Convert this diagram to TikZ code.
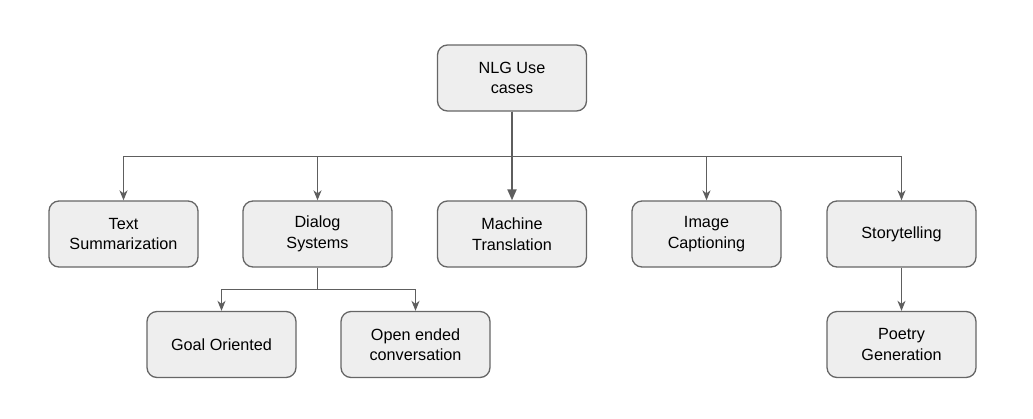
\documentclass[tikz,border=0pt]{standalone}
\usepackage{fontspec}
\setmainfont{Liberation Sans}
\usetikzlibrary{arrows.meta}
\definecolor{boxFill}{HTML}{EEEEEE}
\definecolor{boxLine}{HTML}{666666}
\definecolor{linkLine}{HTML}{5E5E5E}

\begin{document}
\begin{tikzpicture}[
  x=1pt,
  y=-1pt,
  usecase/.style={
    draw=boxLine,
    fill=boxFill,
    line width=1.3pt,
    rounded corners=10pt,
    minimum width=149pt,
    minimum height=66pt,
    align=center,
    font=\fontsize{16.2}{20.5}\selectfont,
  },
  trunk/.style={
    draw=linkLine,
    line width=2pt,
    -{Triangle[length=11pt,width=9pt]},
  },
  branch/.style={
    draw=linkLine,
    line width=1.3pt,
    -{Stealth[length=10pt,width=8pt,inset=3pt]},
  }
]
\useasboundingbox (0,0) rectangle (1033,418);
% root
\node[usecase] (nlg) at (512,78) {NLG Use\\cases};
% first level
\node[usecase] (summ) at (123.5,234) {Text\\Summarization};
\node[usecase] (dialog) at (317.5,234) {Dialog\\Systems};
\node[usecase] (mt) at (512,234) {Machine\\Translation};
\node[usecase] (caption) at (706.5,234) {Image\\Captioning};
\node[usecase] (story) at (901.5,234) {Storytelling};
% second level
\node[usecase] (goal) at (221.5,344.5) {Goal Oriented};
\node[usecase] (open) at (415.5,344.5) {Open ended\\conversation};
\node[usecase] (poetry) at (901.5,344.5) {Poetry\\Generation};

\coordinate (split) at ([yshift=-45pt]nlg.south);
\coordinate (dsplit) at ([yshift=-22pt]dialog.south);

\foreach \n in {summ,dialog,caption,story}
  \draw[branch] (nlg.south) -- (split) -| (\n.north);
\draw[trunk] (nlg) -- (mt);
\foreach \n in {goal,open}
  \draw[branch] (dialog.south) -- (dsplit) -| (\n.north);
\draw[branch] (story) -- (poetry);
\end{tikzpicture}
\end{document}
